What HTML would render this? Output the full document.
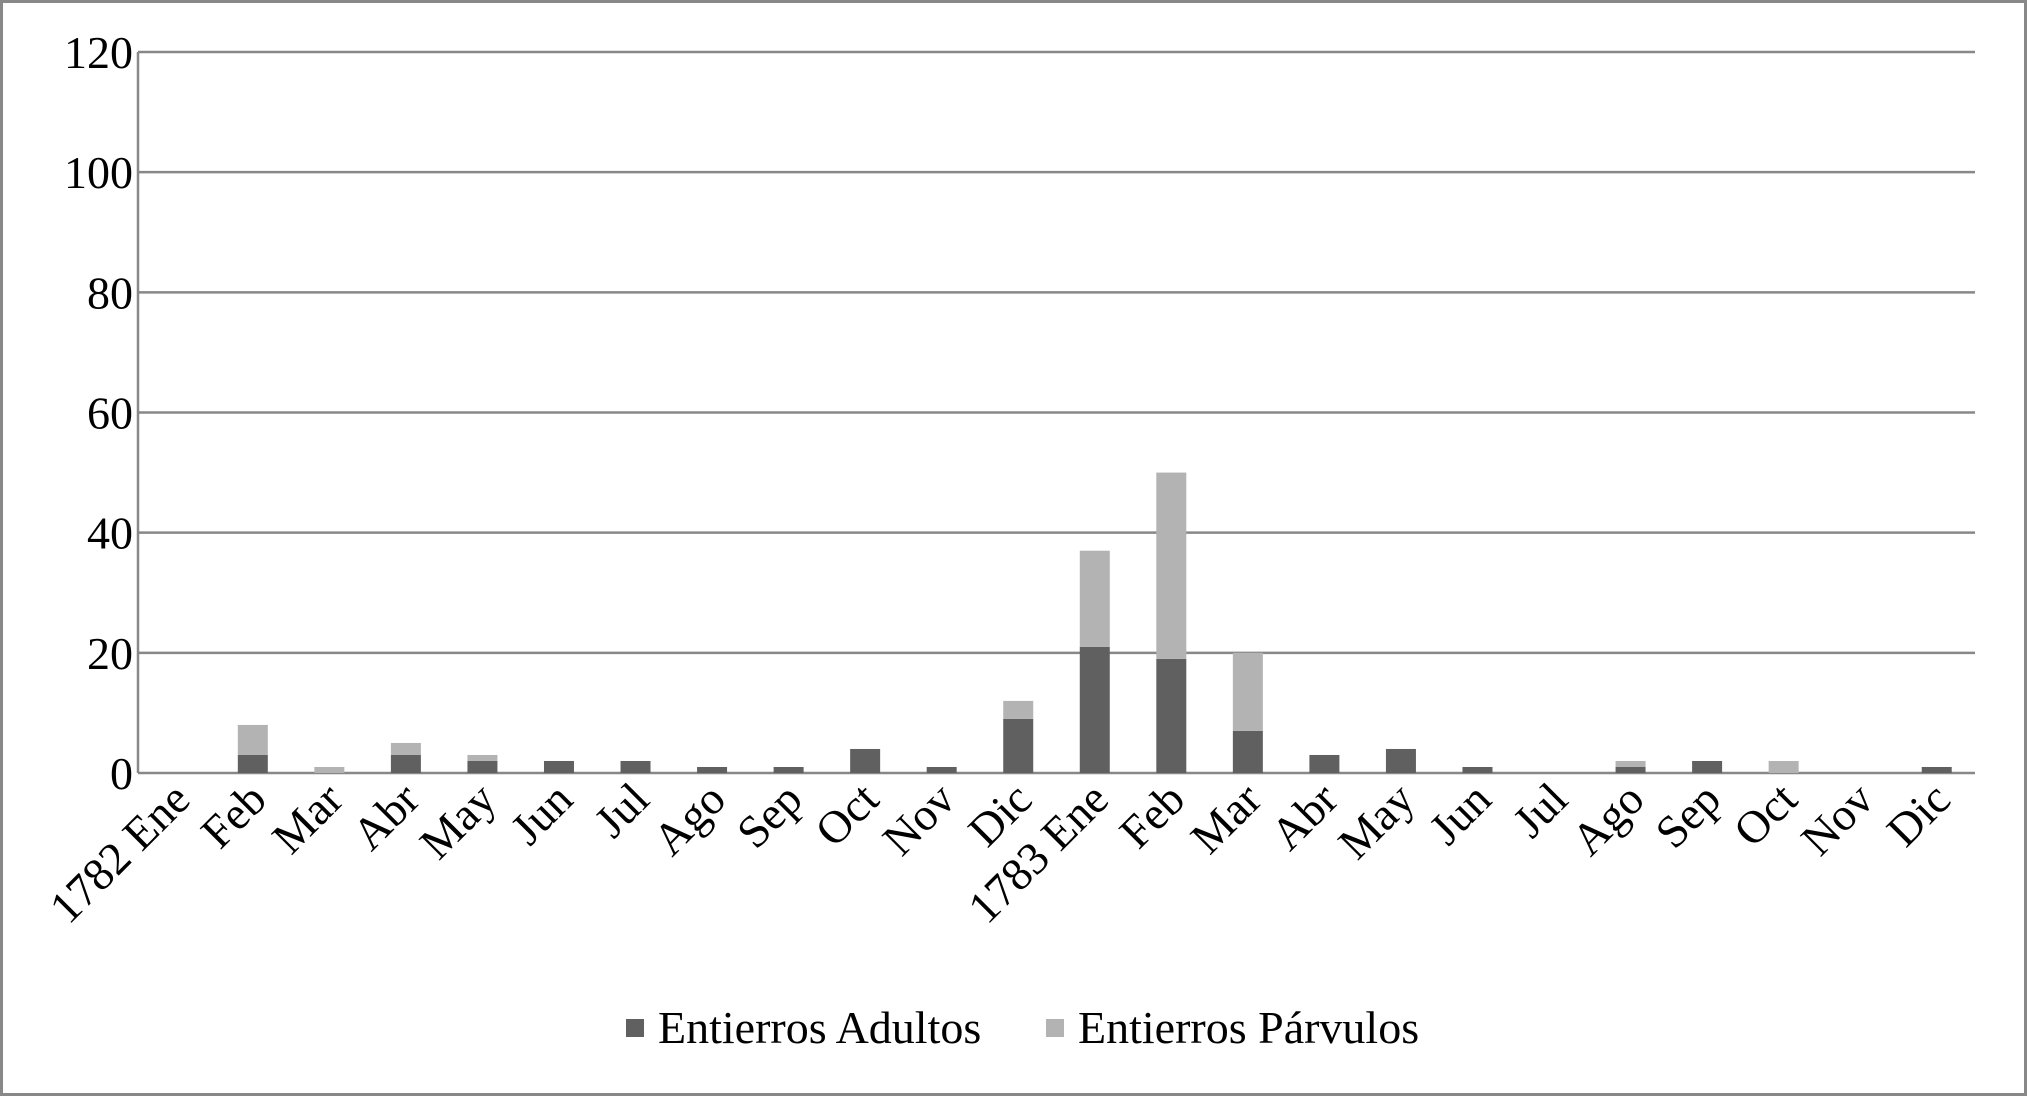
<!DOCTYPE html>
<html><head><meta charset="utf-8"><style>html,body{margin:0;padding:0;background:#fff}</style></head>
<body>
<svg xmlns="http://www.w3.org/2000/svg" width="2027" height="1096" viewBox="0 0 2027 1096" font-family="Liberation Serif, serif">
<rect x="1.5" y="1.5" width="2024" height="1093" fill="#fff" stroke="#888" stroke-width="3"/>
<g id="grid" stroke="#888" stroke-width="2.5"></g>
<g id="bars"></g>
<g id="labels" font-size="46" fill="#000"></g>
<rect x="626" y="1019" width="18" height="18" fill="#606060"/>
<text x="658" y="1043" font-size="46">Entierros Adultos</text>
<rect x="1046" y="1019" width="18" height="18" fill="#b3b3b3"/>
<text x="1078" y="1043" font-size="46">Entierros Párvulos</text>
<script>
var ns="http://www.w3.org/2000/svg";
function el(p,t,a,txt){var e=document.createElementNS(ns,t);for(var k in a)e.setAttribute(k,a[k]);if(txt!=null)e.textContent=txt;p.appendChild(e);return e;}
var L=138,R=1975,T=52,B=773,g=document.getElementById('grid'),bg=document.getElementById('bars'),lg=document.getElementById('labels');
var ppu=(B-T)/120;
for(var v=0;v<=120;v+=20){var y=B-v*ppu;el(g,'line',{x1:L,x2:R,y1:y,y2:y});el(lg,'text',{x:133,y:y+16,'text-anchor':'end'},String(v));}
el(g,'line',{x1:L,x2:L,y1:T,y2:B});
var names=["1782 Ene","Feb","Mar","Abr","May","Jun","Jul","Ago","Sep","Oct","Nov","Dic","1783 Ene","Feb","Mar","Abr","May","Jun","Jul","Ago","Sep","Oct","Nov","Dic"];
var a=[0,3,0,3,2,2,2,1,1,4,1,9,21,19,7,3,4,1,0,1,2,0,0,1];
var p=[0,5,1,2,1,0,0,0,0,0,0,3,16,31,13,0,0,0,0,1,0,2,0,0];
var cw=(R-L)/24;
for(var i=0;i<24;i++){var cx=L+cw*(i+0.5);
 var ha=a[i]*ppu,hp=p[i]*ppu;
 if(ha>0)el(bg,'rect',{x:cx-15,y:B-ha,width:30,height:ha,fill:'#606060'});
 if(hp>0)el(bg,'rect',{x:cx-15,y:B-ha-hp,width:30,height:hp,fill:'#b3b3b3'});
 el(lg,'text',{x:0,y:0,'text-anchor':'end',transform:'translate('+(cx+16)+',802) rotate(-45)'},names[i]);
}
</script>
</svg>
</body></html>
